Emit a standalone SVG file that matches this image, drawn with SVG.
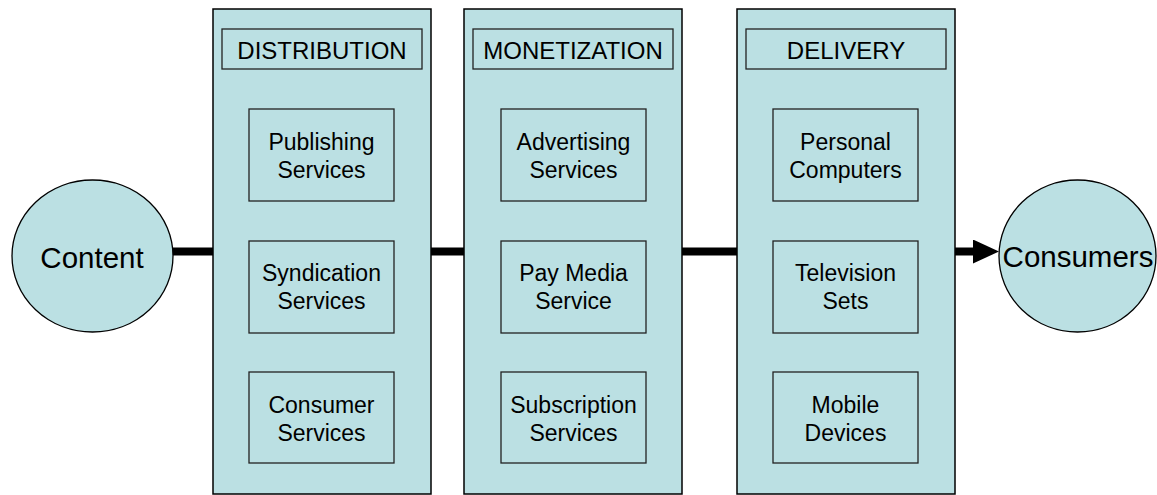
<svg xmlns="http://www.w3.org/2000/svg" width="1157" height="495" viewBox="0 0 1157 495">
  <defs>
    <style>
      .col { fill: #BBE0E3; stroke: #000; stroke-width: 1.5; }
      .box { fill: #BBE0E3; stroke: #222; stroke-width: 1.3; }
      .end { fill: #BBE0E3; stroke: #000; stroke-width: 1.3; }
      .lbl { font-family: "Liberation Sans", Arial, sans-serif; font-size: 23px; fill: #000; text-anchor: middle; }
      .hdr { font-family: "Liberation Sans", Arial, sans-serif; font-size: 24px; fill: #000; text-anchor: middle; }
      .big { font-family: "Liberation Sans", Arial, sans-serif; font-size: 29.5px; fill: #000; text-anchor: middle; }
      .link { stroke: #000; stroke-width: 8; fill: none; }
    </style>
    <!-- arrowhead tip sits on the path end; the shaft stops short of it -->
    <marker id="arrow" markerUnits="userSpaceOnUse" markerWidth="26" markerHeight="24" refX="7" refY="12" orient="auto">
      <path d="M0,0 L26,12 L0,24 Z" fill="#000"/>
    </marker>
  </defs>

  <!-- connectors -->
  <g id="connectors">
    <line class="link" x1="172" y1="251.5" x2="213" y2="251.5"/>
    <line class="link" x1="431" y1="251.5" x2="464" y2="251.5"/>
    <line class="link" x1="682" y1="251.5" x2="737" y2="251.5"/>
    <line class="link" x1="955" y1="251.5" x2="980" y2="251.5" marker-end="url(#arrow)"/>
  </g>

  <!-- source -->
  <g id="content">
    <ellipse class="end" cx="92.5" cy="256" rx="80.5" ry="76"/>
    <text class="big" x="92" y="268">Content</text>
  </g>

  <!-- stage 1 -->
  <g id="distribution">
    <rect class="col" x="213" y="9" width="218" height="485"/>
    <rect class="box" x="222" y="29" width="200" height="40"/>
    <text class="hdr" x="322" y="59">DISTRIBUTION</text>
  </g>
  <g id="publishing-services">
    <rect class="box" x="249" y="109" width="145" height="92"/>
    <text class="lbl" x="321.5" y="150">Publishing</text>
    <text class="lbl" x="321.5" y="178">Services</text>
  </g>
  <g id="syndication-services">
    <rect class="box" x="249" y="241" width="145" height="92"/>
    <text class="lbl" x="321.5" y="281">Syndication</text>
    <text class="lbl" x="321.5" y="309">Services</text>
  </g>
  <g id="consumer-services">
    <rect class="box" x="249" y="372" width="145" height="91"/>
    <text class="lbl" x="321.5" y="413">Consumer</text>
    <text class="lbl" x="321.5" y="441">Services</text>
  </g>

  <!-- stage 2 -->
  <g id="monetization">
    <rect class="col" x="464" y="9" width="218" height="485"/>
    <rect class="box" x="473" y="29" width="200" height="40"/>
    <text class="hdr" x="573" y="59">MONETIZATION</text>
  </g>
  <g id="advertising-services">
    <rect class="box" x="501" y="109" width="145" height="92"/>
    <text class="lbl" x="573.5" y="150">Advertising</text>
    <text class="lbl" x="573.5" y="178">Services</text>
  </g>
  <g id="pay-media-service">
    <rect class="box" x="501" y="241" width="145" height="92"/>
    <text class="lbl" x="573.5" y="281">Pay Media</text>
    <text class="lbl" x="573.5" y="309">Service</text>
  </g>
  <g id="subscription-services">
    <rect class="box" x="501" y="372" width="145" height="91"/>
    <text class="lbl" x="573.5" y="413">Subscription</text>
    <text class="lbl" x="573.5" y="441">Services</text>
  </g>

  <!-- stage 3 -->
  <g id="delivery">
    <rect class="col" x="737" y="9" width="218" height="485"/>
    <rect class="box" x="746" y="29" width="200" height="40"/>
    <text class="hdr" x="846" y="59">DELIVERY</text>
  </g>
  <g id="personal-computers">
    <rect class="box" x="773" y="109" width="145" height="92"/>
    <text class="lbl" x="845.5" y="150">Personal</text>
    <text class="lbl" x="845.5" y="178">Computers</text>
  </g>
  <g id="television-sets">
    <rect class="box" x="773" y="241" width="145" height="92"/>
    <text class="lbl" x="845.5" y="281">Television</text>
    <text class="lbl" x="845.5" y="309">Sets</text>
  </g>
  <g id="mobile-devices">
    <rect class="box" x="773" y="372" width="145" height="91"/>
    <text class="lbl" x="845.5" y="413">Mobile</text>
    <text class="lbl" x="845.5" y="441">Devices</text>
  </g>

  <!-- sink -->
  <g id="consumers">
    <ellipse class="end" cx="1077.5" cy="256" rx="78.5" ry="76"/>
    <text class="big" x="1078" y="267">Consumers</text>
  </g>
</svg>
